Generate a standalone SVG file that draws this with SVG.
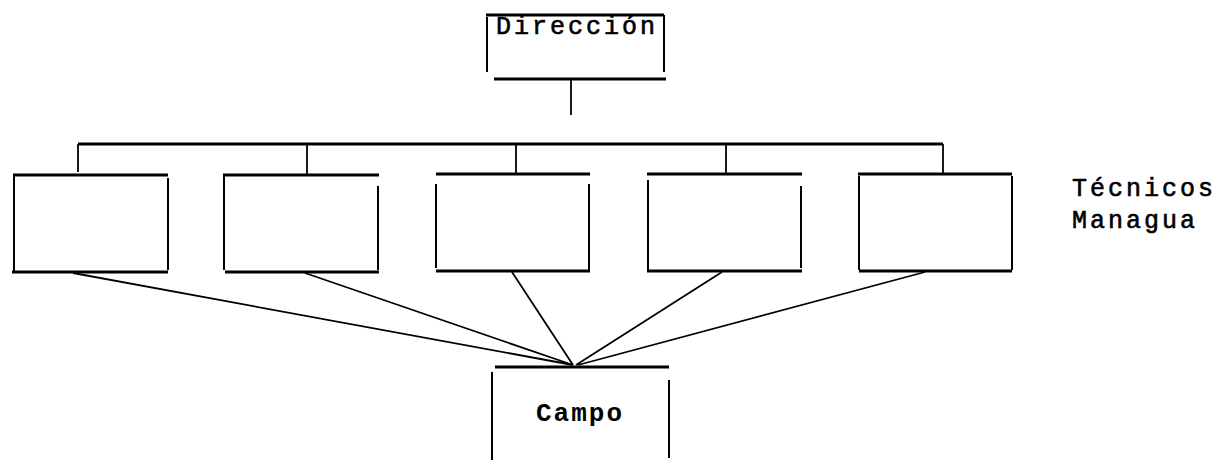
<svg xmlns="http://www.w3.org/2000/svg" width="1222" height="462" viewBox="0 0 1222 462">
<style>
.h{stroke:#000;stroke-width:3.2;fill:none;stroke-linecap:butt}
.v{stroke:#000;stroke-width:2;fill:none}
.c{stroke:#000;stroke-width:1.8;fill:none}
.t{font-family:"Liberation Mono","DejaVu Sans Mono",monospace;font-size:25px;fill:#000;stroke:#000;stroke-width:0.6;letter-spacing:3px}
.b{font-family:"Liberation Mono","DejaVu Sans Mono",monospace;font-size:26px;font-weight:bold;fill:#000;letter-spacing:2px}
</style>
<rect width="1222" height="462" fill="#fff"/>
<g id="connectors">
<path class="c" d="M571 80 V115"/>
<path class="h" d="M78 144 H943"/>
<path class="c" d="M78 144 V172 M307 144 V174 M516 144 V174 M726 144 V174 M943 144 V174"/>
<path class="c" d="M73 273 L573 365 M305 273 L573 365 M512 272 L573 365 M722 272 L576 365 M925 272 L578 365"/>
</g>
<g id="direccion">
<path class="h" d="M486 15 H664 M494 79 H666"/>
<path class="v" d="M487 17 V72 M664 15 V72"/>
<text class="t" x="496" y="34">Dirección</text>
</g>
<g id="box1"><path class="h" d="M13 175 H168 M12 272 H168"/><path class="v" d="M14 176 V272 M168 178 V270"/></g>
<g id="box2"><path class="h" d="M223 175 H379 M225 272 H379"/><path class="v" d="M224 176 V270 M378 186 V270"/></g>
<g id="box3"><path class="h" d="M436 174 H590 M436 271 H590"/><path class="v" d="M436 184 V268 M589 184 V270"/></g>
<g id="box4"><path class="h" d="M647 174 H802 M647 271 H802"/><path class="v" d="M648 180 V270 M801 186 V268"/></g>
<g id="box5"><path class="h" d="M858 174 H1012 M859 271 H1012"/><path class="v" d="M859 176 V270 M1012 176 V270"/></g>
<g id="tecnicos"><text class="t" x="1072" y="196">Técnicos</text><text class="t" x="1072" y="228">Managua</text></g>
<g id="campo">
<path class="h" d="M495 367 H669"/>
<path class="v" d="M492 372 V460 M669 380 V458"/>
<text class="b" x="536" y="421">Campo</text>
</g>
</svg>
